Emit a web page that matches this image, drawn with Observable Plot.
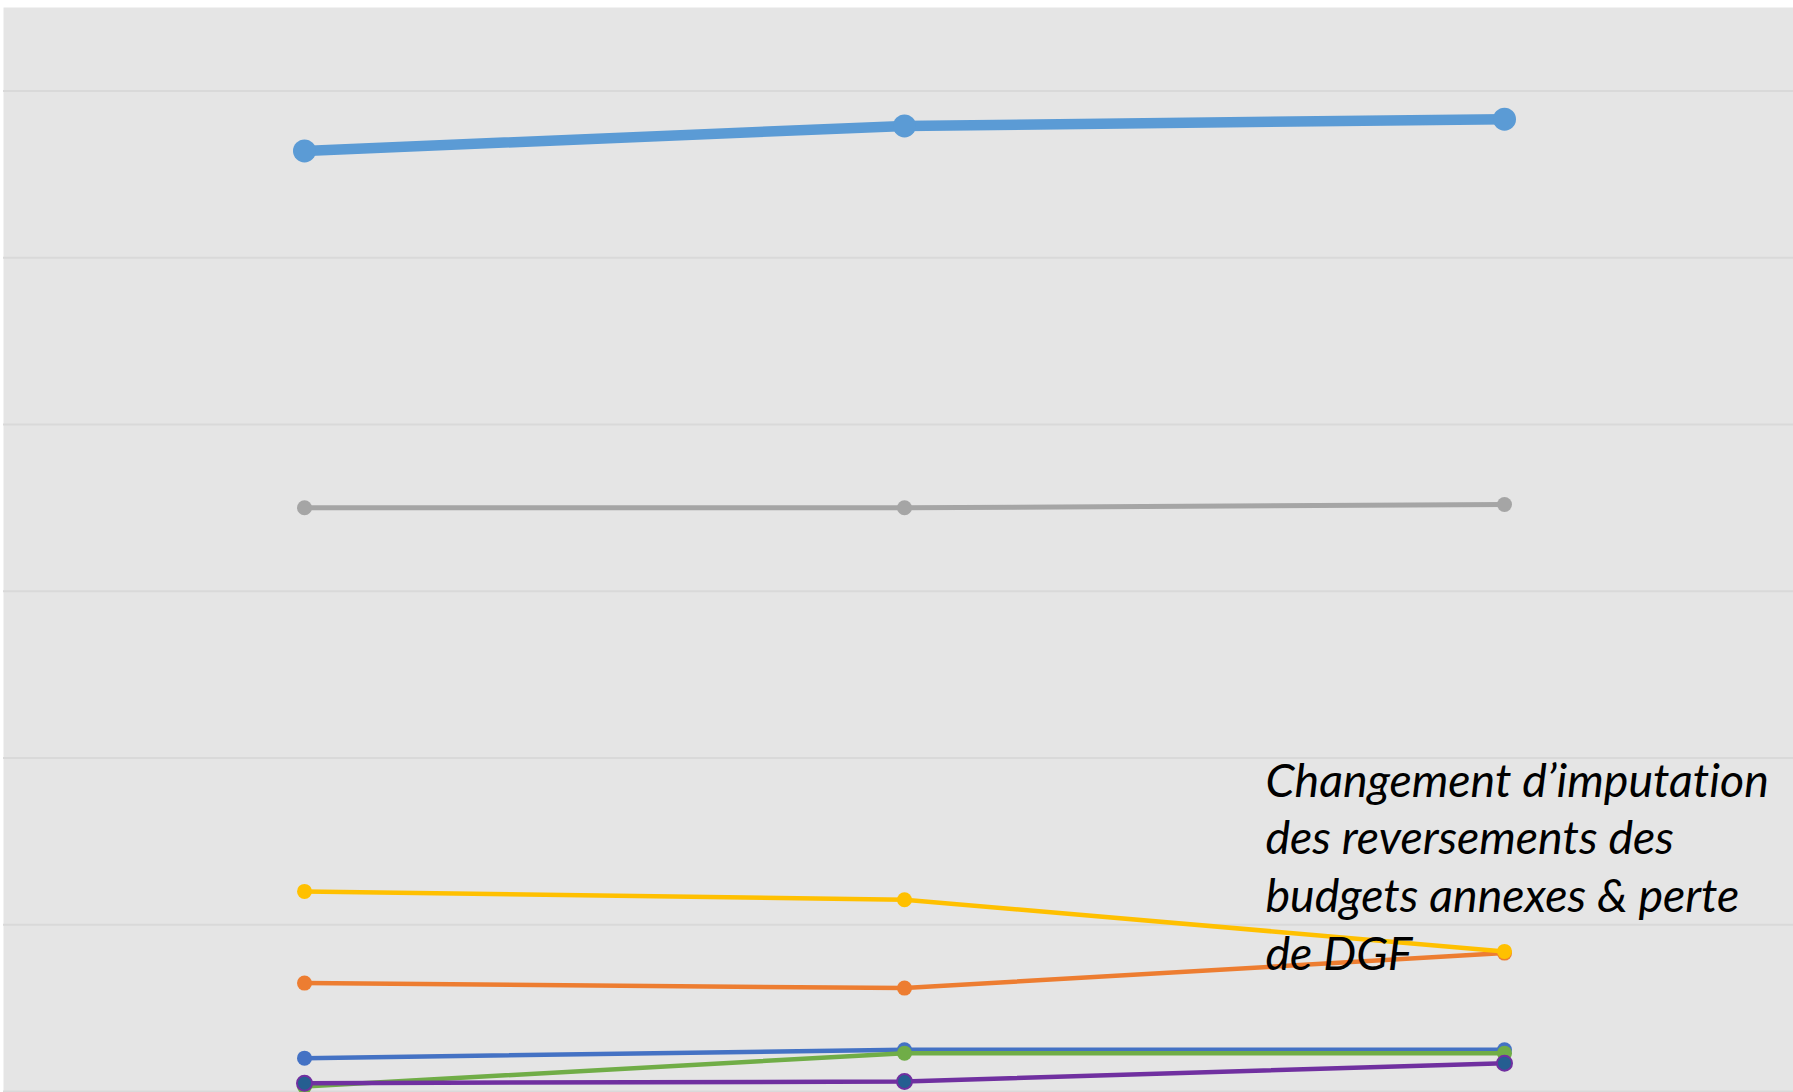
<!DOCTYPE html>
<html><head><meta charset="utf-8">
<script src="https://cdn.jsdelivr.net/npm/d3@7"></script>
<script src="https://cdn.jsdelivr.net/npm/@observablehq/plot@0.6"></script>
<style>html,body{margin:0;padding:0;background:#fff}svg{display:block}svg text{font-variant-ligatures:none}</style>
</head><body><div id="chart"></div>
<script>
// Categories (years, not labelled in the reference)
const categories = ["2019", "2020", "2021"];

// Series values
const serieA = [5.64, 5.79, 5.83];   // thick light blue
const serieB = [3.50, 3.50, 3.52];   // grey
const serieC = [0.65, 0.62, 0.83];   // orange
const serieD = [1.20, 1.15, 0.84];   // yellow
const serieE = [0.20, 0.25, 0.25];   // blue
const serieF = [0.03, 0.23, 0.23];   // green
const serieG = [0.05, 0.06, 0.17];   // purple

const gridValues = [0, 1, 2, 3, 4, 5, 6];

const annotationText = "Changement d’imputation\ndes reversements des\nbudgets annexes & perte\nde DGF";
const annotation = [{x: "2021", y: 1.36, text: annotationText}];

// Styles (kept apart from data)
const seriesList = [
  {name: "A", values: serieA, color: "#5B9BD5", width: 10.5, r: 11.5, fill: "#5B9BD5"},
  {name: "B", values: serieB, color: "#A5A5A5", width: 5, r: 7.5, fill: "#A5A5A5"},
  {name: "C", values: serieC, color: "#ED7D31", width: 4.5, r: 7.5, fill: "#ED7D31"},
  {name: "D", values: serieD, color: "#FFC000", width: 4.5, r: 7.5, fill: "#FFC000"},
  {name: "E", values: serieE, color: "#4472C4", width: 4.5, r: 7.5, fill: "#4472C4"},
  {name: "F", values: serieF, color: "#70AD47", width: 4.5, r: 7.5, fill: "#70AD47"},
  {name: "G", values: serieG, color: "#7030A0", width: 4.5, r: 7.5, fill: "#255E91"}
];

const marks = [
  Plot.frame({fill: "#e5e5e5"}),
  Plot.ruleY(gridValues, {stroke: "#d9d9d9", strokeWidth: 2})
];
for (const s of seriesList) {
  const rows = categories.map((c, i) => ({x: c, y: s.values[i]}));
  marks.push(Plot.line(rows, {x: "x", y: "y", stroke: s.color, strokeWidth: s.width}));
  marks.push(Plot.dot(rows, {x: "x", y: "y", r: s.r, fill: s.fill, stroke: s.color, strokeWidth: s.fill === s.color ? 0 : 2}));
}
marks.push(Plot.text(annotation, {
  x: "x", y: "y", text: "text", dx: -239,
  textAnchor: "start", lineAnchor: "middle", lineHeight: 1.24,
  fontSize: 46.5, fontStyle: "italic", fill: "#000",
  fontFamily: "Lato, 'Open Sans', sans-serif"
}));

const chart = Plot.plot({
  width: 1793,
  height: 1092,
  marginLeft: 3,
  marginTop: 7,
  marginRight: 0,
  marginBottom: 1,
  style: {background: "#fff"},
  x: {type: "point", domain: categories, range: [303, 1504], padding: 0, axis: null},
  y: {domain: [0, 6.5], axis: null},
  marks
});
document.getElementById("chart").append(chart);
</script>
</body></html>
